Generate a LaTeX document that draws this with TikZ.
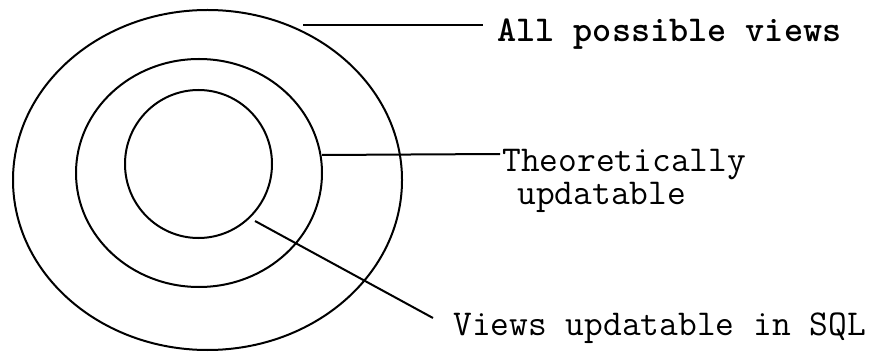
\documentclass[tikz,border=0pt]{standalone}
\usepackage{fontspec}
\usepackage{tikz}

\tikzset{
  ring/.style={black, line width=1pt},
  leader/.style={black, line width=1pt},
  lbl/.style={anchor=base west, inner sep=0pt, font=\ttfamily\fontsize{18.2}{21}\selectfont}
}

\begin{document}
\begin{tikzpicture}[x=0.5pt, y=-0.5pt]
\useasboundingbox (0,0) rectangle (882,352);
% the three regions
\draw[ring] (207.5,180) ellipse [x radius=194.5, y radius=170];
\draw[ring] (199,173) ellipse [x radius=123, y radius=114];
\draw[ring] (198.5,164) ellipse [x radius=73.5, y radius=74];
% labels
\node[lbl, font=\ttfamily\bfseries\fontsize{18.2}{21}\selectfont] (allv) at (497,42) {All possible views};
\node[lbl] (theo) at (502,172) {Theoretically};
\node[lbl] (upd) at (517,205) {updatable};
\node[lbl] (sqlv) at (453,335) {Views updatable in SQL};
% leader lines
\coordinate (p1) at (303,25);
\coordinate (q1) at (483,25);
\coordinate (p2) at (322,155);
\coordinate (q2) at (500,154);
\coordinate (p3) at (255,221);
\coordinate (q3) at (433,318);
\draw[leader] (p1) -- (q1);
\draw[leader] (p2) -- (q2);
\draw[leader] (p3) -- (q3);
\end{tikzpicture}
\end{document}
